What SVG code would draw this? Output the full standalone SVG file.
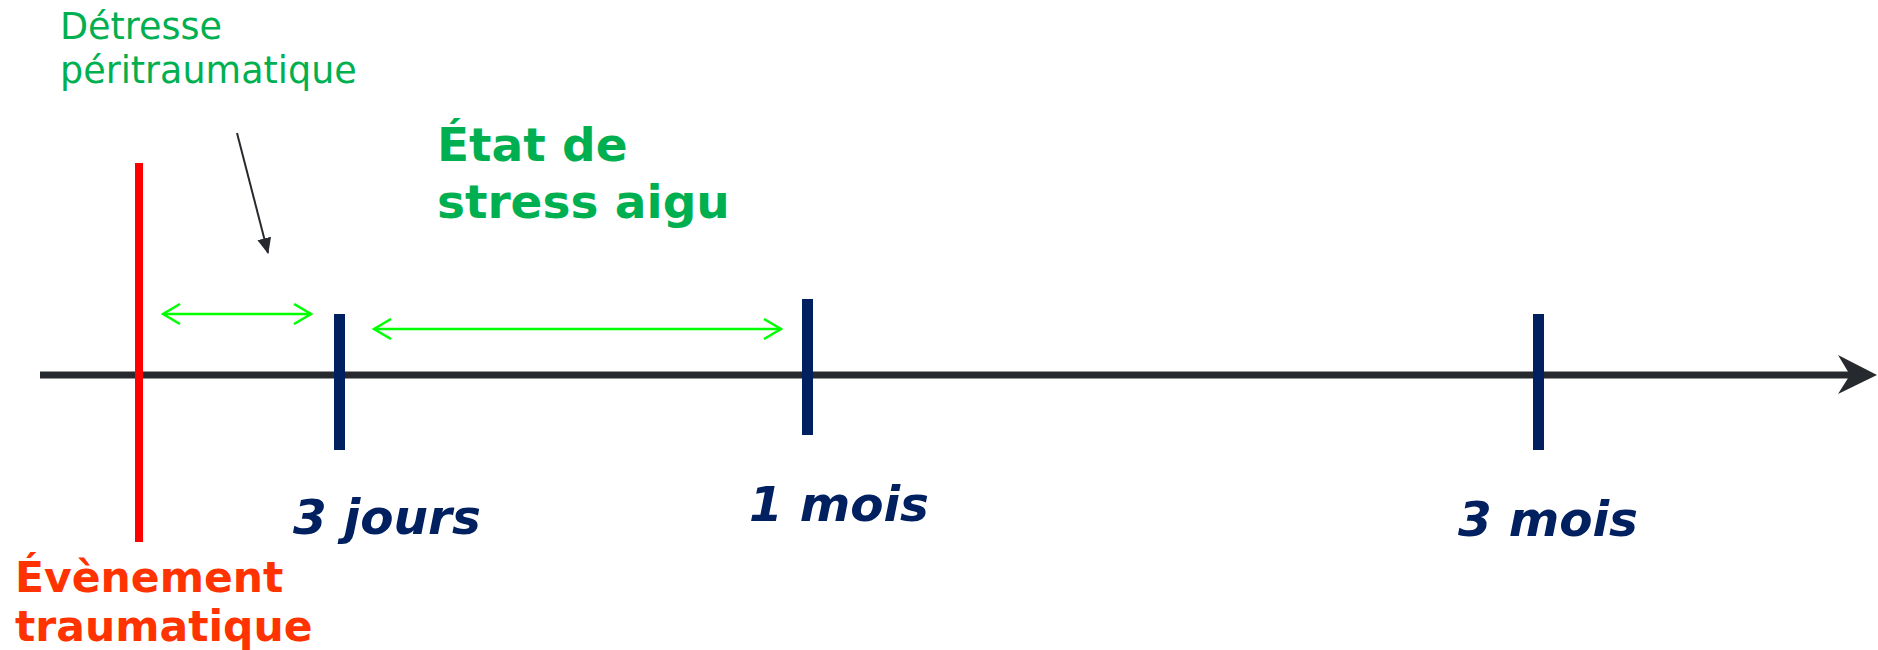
<svg xmlns="http://www.w3.org/2000/svg" width="1878" height="650" viewBox="0 0 1878 650">
<style>
.tick{stroke:#002060;stroke-width:11;fill:none}
.lbl{font-family:"DejaVu Sans",Verdana,sans-serif;font-weight:bold;font-style:italic;font-size:48.5px;fill:#002060}
.grn{stroke:#00ff00;stroke-width:2.5;fill:none}
.title{font-family:"DejaVu Sans",Verdana,sans-serif}
</style>
<defs>
<marker id="open" viewBox="0 0 20 22" refX="18" refY="11" markerWidth="20" markerHeight="22" markerUnits="userSpaceOnUse" orient="auto-start-reverse">
<path d="M1,1 L18,11 L1,21" fill="none" stroke="#00ff00" stroke-width="2.5"/>
</marker>
<marker id="solid" viewBox="0 0 16 18" refX="15" refY="9" markerWidth="16" markerHeight="18" markerUnits="userSpaceOnUse" orient="auto">
<path d="M0,2 L16,9 L0,16 Z" fill="#262a2e"/>
</marker>
</defs>
<rect width="1878" height="650" fill="#ffffff"/>
<g id="connectors">
<line x1="40" y1="375" x2="1852" y2="375" stroke="#262a2e" stroke-width="7"/>
<path d="M1877,375 L1838,355 L1850,375 L1838,394 Z" fill="#262a2e"/>
<line class="grn" x1="163" y1="314" x2="311" y2="314" marker-start="url(#open)" marker-end="url(#open)"/>
<line class="grn" x1="374" y1="329" x2="781" y2="329" marker-start="url(#open)" marker-end="url(#open)"/>
<line x1="237" y1="133" x2="268" y2="253" stroke="#262a2e" stroke-width="2" marker-end="url(#solid)"/>
</g>
<g id="event">
<line x1="139" y1="163" x2="139" y2="542" stroke="#ff0000" stroke-width="8"/>
<text class="title" x="15" y="592" font-size="42.5" font-weight="bold" fill="#ff3300">Évènement</text>
<text class="title" x="15" y="641" font-size="42.5" font-weight="bold" fill="#ff3300">traumatique</text>
</g>
<g id="tick-3jours">
<line class="tick" x1="339.5" y1="314" x2="339.5" y2="450"/>
<text class="lbl" x="293" y="534">3 jours</text>
</g>
<g id="tick-1mois">
<line class="tick" x1="807.5" y1="299" x2="807.5" y2="435"/>
<text class="lbl" x="749" y="521">1 mois</text>
</g>
<g id="tick-3mois">
<line class="tick" x1="1538.5" y1="314" x2="1538.5" y2="450"/>
<text class="lbl" x="1458" y="536">3 mois</text>
</g>
<g id="detresse">
<text class="title" x="60" y="39" font-size="36.5" fill="#00b050">Détresse</text>
<text class="title" x="60" y="83" font-size="36.5" fill="#00b050">péritraumatique</text>
</g>
<g id="etat">
<text class="title" x="437" y="161" font-size="47" font-weight="bold" fill="#00b050">État de</text>
<text class="title" x="437" y="218" font-size="47" font-weight="bold" fill="#00b050">stress aigu</text>
</g>
</svg>
